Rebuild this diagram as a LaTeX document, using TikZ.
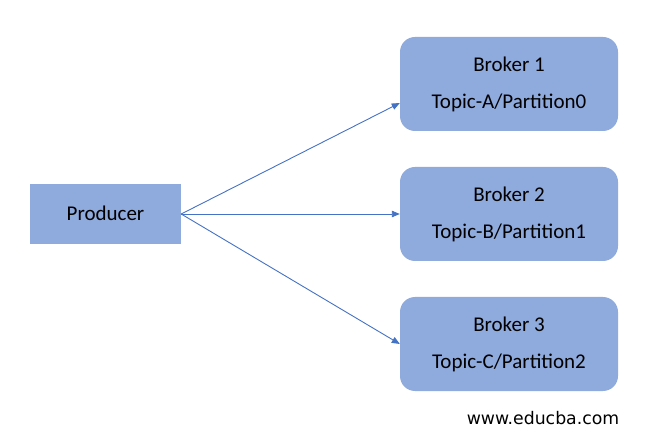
\documentclass[tikz,border=0pt]{standalone}
\usepackage{fontspec}
\setmainfont{Carlito}
\newfontfamily\webfont{DejaVu Sans}
\usetikzlibrary{arrows.meta}
\definecolor{boxblue}{HTML}{8FAADC}
\definecolor{linkblue}{HTML}{4472C4}

\begin{document}
\begin{tikzpicture}[x=1pt,y=-1pt,
    prodbox/.style={fill=boxblue, minimum width=151pt, minimum height=60pt, inner sep=0pt, font=\fontsize{21}{24}\selectfont},
    brokerbox/.style={fill=boxblue, rounded corners=15pt, minimum width=218pt, minimum height=94pt, inner sep=0pt, align=center, font=\fontsize{21}{37}\selectfont},
    link/.style={draw=linkblue, line width=0.9pt, -{Triangle[length=8pt,width=6.5pt]}}]
            \useasboundingbox (0,0) rectangle (645,435);
            \node[prodbox] (prod) at (105.5,214) {\raisebox{1.5pt}{Producer}};
            \node[brokerbox] (b1) at (509,84) {Broker 1\\Topic-A/Partition0};
            \node[brokerbox] (b2) at (509,214) {Broker 2\\Topic-B/Partition1};
            \node[brokerbox] (b3) at (509,344) {Broker 3\\Topic-C/Partition2};
            \draw[link] (prod.east) -- ([yshift=-19pt]b1.west);
            \draw[link] (prod.east) -- (b2.west);
            \draw[link] (prod.east) -- (b3.west);
            \node[font=\webfont\fontsize{17.3}{20}\selectfont] (web) at (543,418) {www.educba.com};
        \end{tikzpicture}
\end{document}
